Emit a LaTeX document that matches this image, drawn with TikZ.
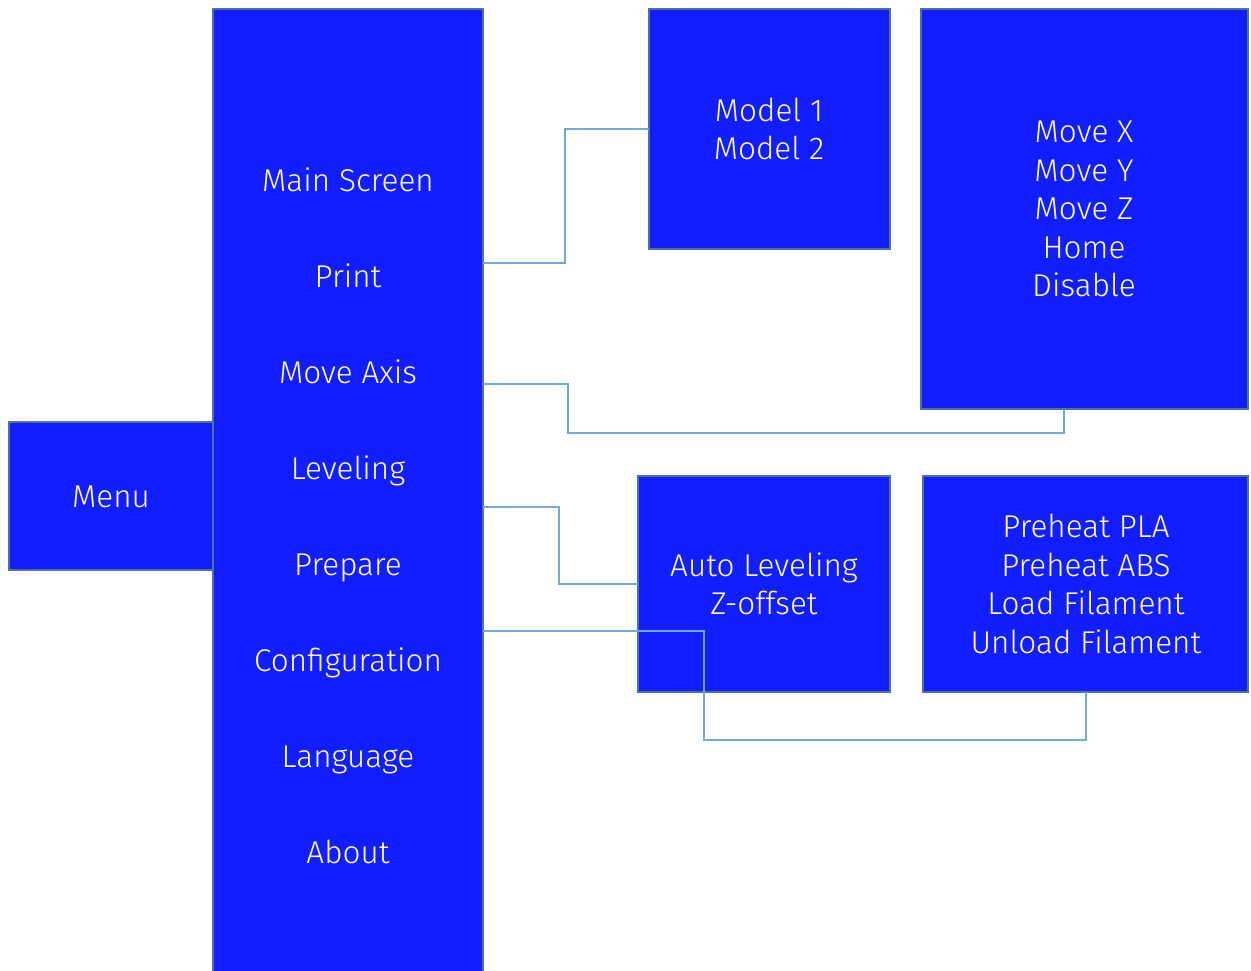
\documentclass[tikz,border=0pt]{standalone}
\usepackage{fontspec}
\setmainfont{Fira Sans Light}
\definecolor{boxfill}{HTML}{121EFF}
\definecolor{boxline}{HTML}{4E7397}
\definecolor{conn}{HTML}{6FA8DC}
\begin{document}
\begin{tikzpicture}[x=1pt,y=-1pt,
  box/.style={draw=boxline,line width=2.5pt,fill=boxfill},
  lbl/.style={text=white,font=\fontsize{31.5}{38.5}\selectfont,align=center,inner sep=0pt},
  one/.style={lbl,text height=22pt,text depth=0pt},
  wire/.style={draw=conn,line width=1.6pt}]
\useasboundingbox (0,0) rectangle (1251,971);
% boxes
\path[box] (9,422) rectangle (213,570);
\path[box] (213,9) rectangle (483,985);
\path[box] (649,9) rectangle (890,249);
\path[box] (921,9) rectangle (1248,409);
\path[box] (638,476) rectangle (890,692);
\path[box] (923,476) rectangle (1248,692);
% anchor coordinates
\coordinate (colP) at (483,263);
\coordinate (colM) at (483,384);
\coordinate (colL) at (483,507);
\coordinate (colC) at (483,631);
\coordinate (model) at (649,129);
\coordinate (moveb) at (1064,409);
\coordinate (auto) at (638,584);
\coordinate (pre) at (1086,692);
% connectors
\draw[wire] (colP) -- (565,263) -- (565,129) -- (model);
\draw[wire] (colM) -- (568,384) -- (568,433) -- (1064,433) -- (moveb);
\draw[wire] (colL) -- (559,507) -- (559,584) -- (auto);
\draw[wire] (colC) -- (704,631) -- (704,740) -- (1086,740) -- (pre);
% labels
\node[one] (menu) at (111,496) {Menu};
\node[one] (ms) at (348,180) {Main Screen};
\node[one] (pr) at (348,276) {Print};
\node[one] (ma) at (348,372) {Move Axis};
\node[one] (lv) at (348,468) {Leveling};
\node[one] (pp) at (348,564) {Prepare};
\node[one] (cf) at (348,660) {Configuration};
\node[one] (lg) at (348,756) {Language};
\node[one] (ab) at (348,852) {About};
\node[lbl] (models) at (769,129) {Model 1\\Model 2};
\node[lbl] (moves) at (1084,209) {Move X\\Move Y\\Move Z\\Home\\Disable};
\node[lbl] (autol) at (764,584) {Auto Leveling\\Z-offset};
\node[lbl] (preh) at (1086,584) {Preheat PLA\\Preheat ABS\\Load Filament\\Unload Filament};
\end{tikzpicture}
\end{document}
